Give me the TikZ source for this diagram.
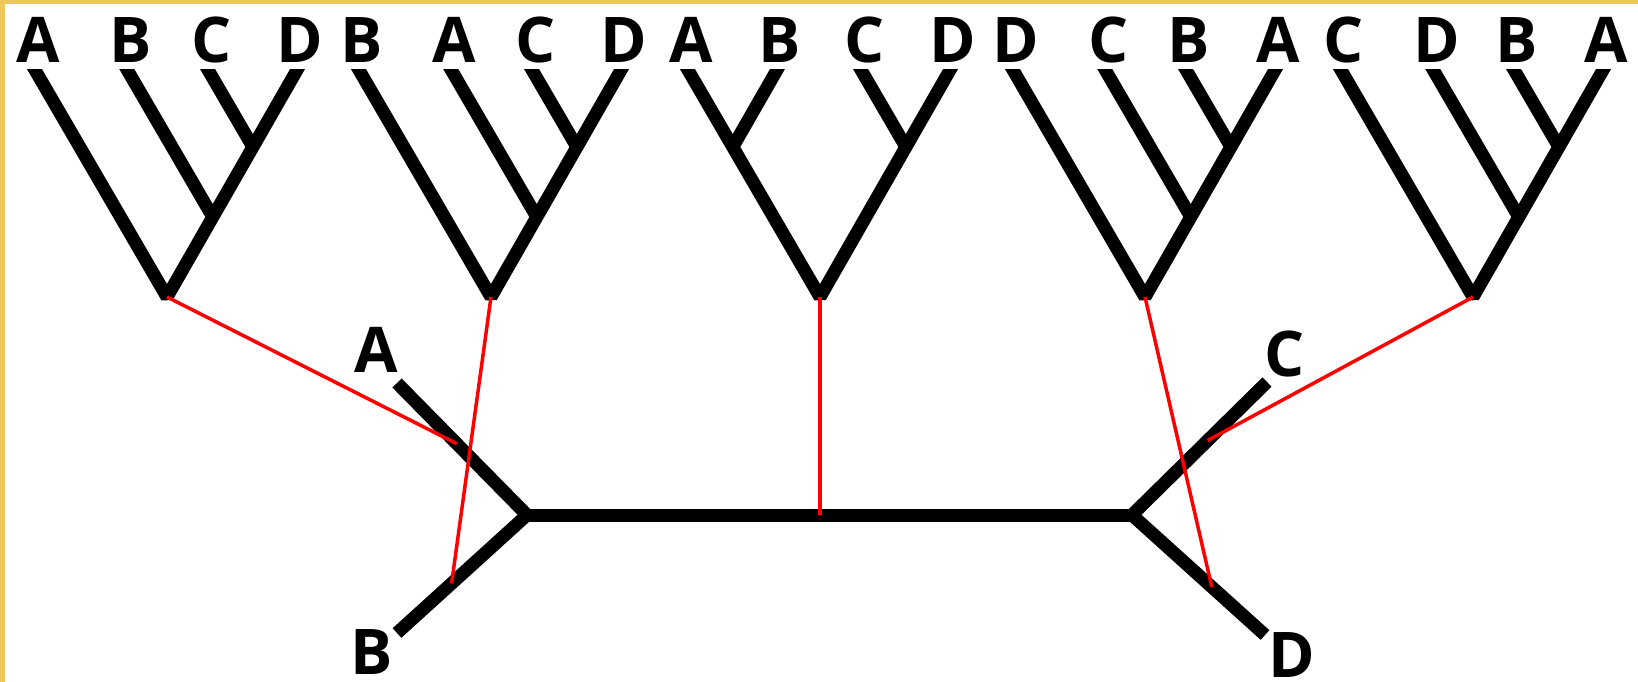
\documentclass[tikz,border=0pt]{standalone}
\usepackage{fontspec}
\setmainfont{Open Sans}
\usetikzlibrary{calc}
\definecolor{framecol}{RGB}{238,200,90}
\tikzset{
  branch/.style={line width=13pt, black, line cap=butt, line join=bevel},
  link/.style={line width=3.5pt, red},
  lbl/.style={font=\fontsize{63}{63}\selectfont\bfseries, inner sep=0pt},
}
\newcommand\laddertree[6]{%
  \begin{scope}[shift={(#2,0)}]
    \coordinate (#1r) at (0,297);
    \coordinate (#1a) at (-132,70);
    \coordinate (#1b) at (-39.7,70);
    \coordinate (#1c) at (41.1,70);
    \coordinate (#1d) at (130,70);
    \coordinate (#1m) at (45.8,217);
    \coordinate (#1n) at (85.9,147);
    \begin{scope}
      \clip (-200,70) rectangle (200,400);
      \draw[branch, shorten <=-14pt, shorten >=-14pt] (#1a) -- (#1r) -- (#1d);
      \draw[branch, shorten >=-14pt] (#1m) -- (#1b);
      \draw[branch, shorten >=-14pt] (#1n) -- (#1c);
    \end{scope}
    \node[lbl, anchor=base] (#1la) at ($(#1a)+(3,-7)$) {#3};
    \node[lbl, anchor=base] (#1lb) at ($(#1b)+(3,-7)$) {#4};
    \node[lbl, anchor=base] (#1lc) at ($(#1c)+(3,-7)$) {#5};
    \node[lbl, anchor=base] (#1ld) at ($(#1d)+(3,-7)$) {#6};
  \end{scope}}
\begin{document}
\begin{tikzpicture}[x=1pt,y=-1pt]
\fill[framecol] (0,0) rectangle (1638,682);
\fill[white] (5,4) rectangle (1638,682);
\useasboundingbox (0,0) rectangle (1638,682);

% rooted trees
\laddertree{t1}{167}{A}{B}{C}{D}
\laddertree{t2}{491}{B}{A}{C}{D}
\laddertree{t4}{1145}{D}{C}{B}{A}
\laddertree{t5}{1473}{C}{D}{B}{A}

% balanced tree
\begin{scope}[shift={(820,0)}]
  \coordinate (t3r) at (0,297);
  \coordinate (t3a) at (-132,70);
  \coordinate (t3b) at (-43.1,70);
  \coordinate (t3c) at (41.1,70);
  \coordinate (t3d) at (130,70);
  \coordinate (t3m) at (-87.2,147);
  \coordinate (t3n) at (85.9,147);
  \begin{scope}
    \clip (-200,70) rectangle (200,400);
    \draw[branch, shorten <=-14pt, shorten >=-14pt] (t3a) -- (t3r) -- (t3d);
    \draw[branch, shorten >=-14pt] (t3m) -- (t3b);
    \draw[branch, shorten >=-14pt] (t3n) -- (t3c);
  \end{scope}
  \node[lbl, anchor=base] (t3la) at ($(t3a)+(3,-7)$) {A};
  \node[lbl, anchor=base] (t3lb) at ($(t3b)+(3,-7)$) {B};
  \node[lbl, anchor=base] (t3lc) at ($(t3c)+(3,-7)$) {C};
  \node[lbl, anchor=base] (t3ld) at ($(t3d)+(3,-7)$) {D};
\end{scope}

% unrooted tree
\coordinate (uL) at (527,515);
\coordinate (uR) at (1132,515);
\coordinate (uA) at (397,383);
\coordinate (uB) at (397,633);
\coordinate (uC) at (1267,382);
\coordinate (uD) at (1265,635);
\draw[branch, line join=miter] (uA) -- (uL) -- (uB);
\draw[branch, line join=miter] (uC) -- (uR) -- (uD);
\draw[branch] (uL) -- (uR);
\node[lbl] (labA) at (376,350) {A};
\node[lbl] (labB) at (372,652) {B};
\node[lbl] (labC) at (1285,354) {C};
\node[lbl] (labD) at (1292,655) {D};

% red links
\coordinate (p1) at ($(uA)!0.46!(uL)$);
\coordinate (p2) at ($(uB)!0.42!(uL)$);
\coordinate (p3) at (t3r |- uL);
\coordinate (p4) at ($(uR)!0.60!(uD)$);
\coordinate (p5) at ($(uR)!0.56!(uC)$);
\draw[link] (t1r) -- (p1);
\draw[link] (t2r) -- (p2);
\draw[link] (t3r) -- (p3);
\draw[link] (t4r) -- (p4);
\draw[link] (t5r) -- (p5);
\end{tikzpicture}
\end{document}
